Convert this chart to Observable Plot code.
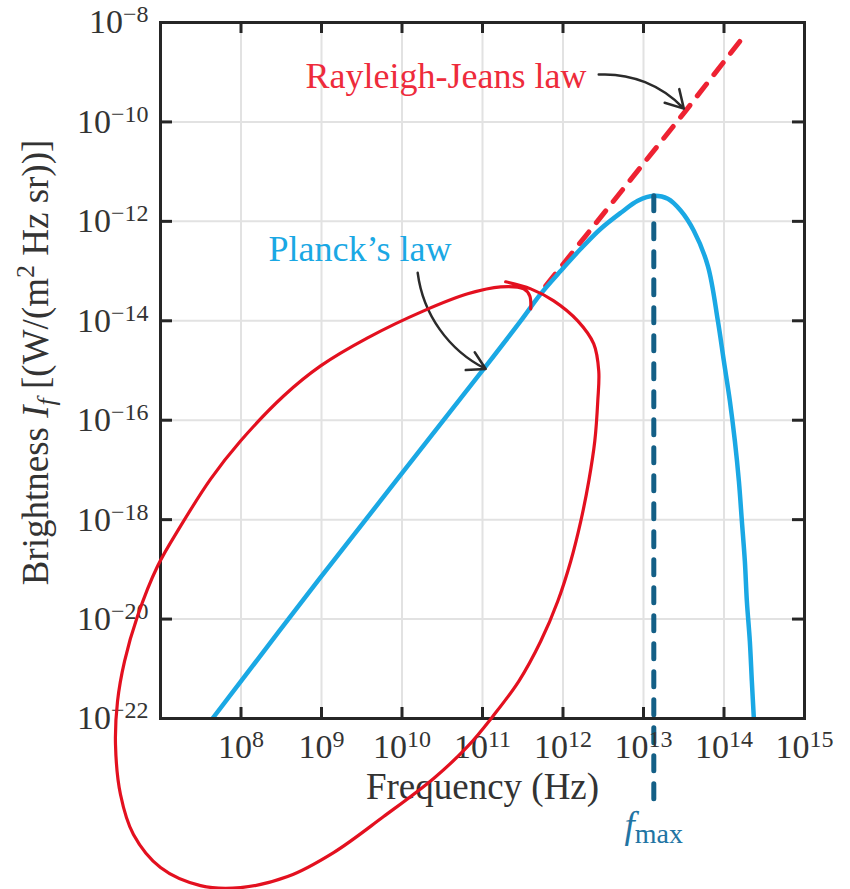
<!DOCTYPE html>
<html>
<head>
<meta charset="utf-8">
<script src="https://cdn.jsdelivr.net/npm/d3@7"></script>
<script src="https://cdn.jsdelivr.net/npm/@observablehq/plot@0.6"></script>
<style>
  html, body { margin: 0; padding: 0; background: #fff; }
</style>
</head>
<body>
<div id="chart"></div>
<script>
// ---------- data (log10 values) ----------
const xTickExp = [8, 9, 10, 11, 12, 13, 14, 15];
const xGridExp = [8, 9, 10, 11, 12, 13, 14];
const yTickExp = [-8, -10, -12, -14, -16, -18, -20, -22];
const yGridExp = [-10, -12, -14, -16, -18, -20];

// Planck's law curve: log10(frequency Hz), log10(brightness)
const planckLogF = [7.646, 8.952, 11.015, 11.475, 11.723, 11.972, 12.221, 12.469, 12.718, 12.929, 13.128, 13.302, 13.464, 13.625, 13.799, 13.924, 13.998, 14.073, 14.135, 14.185, 14.222, 14.259, 14.284, 14.321, 14.346, 14.371];
const planckLogI = [-22.0, -19.239, -14.969, -14.002, -13.458, -12.995, -12.552, -12.149, -11.827, -11.585, -11.484, -11.545, -11.786, -12.189, -12.894, -14.002, -14.808, -15.613, -16.419, -17.225, -18.030, -18.836, -19.641, -20.447, -21.253, -22.0];

// Rayleigh-Jeans law (dashed)
const rjLogF = [11.786, 13.526, 14.234];
const rjLogI = [-13.297, -9.772, -8.302];

// f_max marker
const fMaxLogF = 13.128;
const fMaxLogI = [-11.484, -23.67];

// hand-drawn red loop (annotation)
const loopLogF = [11.288, 11.599, 11.885, 12.183, 12.382, 12.444, 12.432, 12.395, 12.320, 12.221, 12.096, 11.935, 11.723, 11.450, 11.127, 10.816, 10.393, 9.772, 9.150, 8.579, 7.994, 7.497, 7.000, 6.664, 6.503, 6.441, 6.466, 6.553, 6.714, 6.963, 7.249, 7.622, 7.994, 8.529, 8.989, 9.573, 10.269, 10.816, 11.226, 11.512, 11.587, 11.599];
const loopLogI = [-13.216, -13.358, -13.599, -14.002, -14.465, -15.009, -15.613, -16.419, -17.225, -18.030, -18.836, -19.641, -20.447, -21.253, -21.958, -22.562, -23.206, -23.972, -24.697, -25.180, -25.402, -25.362, -24.999, -24.334, -23.529, -22.522, -21.656, -20.850, -19.944, -18.937, -18.131, -17.184, -16.419, -15.513, -14.908, -14.344, -13.801, -13.458, -13.317, -13.358, -13.498, -13.760];

// annotation arrows: [logF1, logI1, logF2, logI2]
const rjArrow = [12.444, -9.047, 13.501, -9.732];
const planckArrow = [10.195, -13.035, 11.040, -14.969];

// annotation labels
const rjLabel = {text: "Rayleigh-Jeans law", lf: 8.802, lI: -9.078};
const planckLabel = {text: "Planck\u2019s law", lf: 8.342, lI: -12.562};
const fmaxLabel = {text: "fmax", lf: 13.128, lI: -24.17};

// ---------- build tables ----------
const P = (fs, is) => fs.map((f, i) => ({f: 10 ** f, I: 10 ** is[i]}));
const planck = P(planckLogF, planckLogI);
const rj = P(rjLogF, rjLogI);
const fmax = fMaxLogI.map(v => ({f: 10 ** fMaxLogF, I: 10 ** v}));
const loop = P(loopLogF, loopLogI);
const arrowRow = a => [{x1: 10 ** a[0], y1: 10 ** a[1], x2: 10 ** a[2], y2: 10 ** a[3]}];
const fmtExp = e => (e < 0 ? "\u2212" + (-e) : String(e));

const BLUE = "#1aa8e4", RED = "#ee2232", DARK = "#262626", TEXT = "#333333";

const svg = Plot.plot({
  width: 850,
  height: 889,
  marginLeft: 160,
  marginRight: 46,
  marginTop: 22,
  marginBottom: 171,
  style: {fontFamily: "'Liberation Serif', 'Times New Roman', serif", background: "#fff", color: TEXT},
  x: {type: "log", domain: [1e7, 1e15]},
  y: {type: "log", domain: [1e-22, 1e-8]},
  marks: [
    // grid
    Plot.ruleX(xGridExp.map(e => 10 ** e), {stroke: "#e2e2e2", strokeWidth: 2}),
    Plot.ruleY(yGridExp.map(e => 10 ** e), {stroke: "#e2e2e2", strokeWidth: 2}),
    // Rayleigh-Jeans dashed
    Plot.line(rj, {x: "f", y: "I", stroke: RED, strokeWidth: 5, strokeDasharray: "15,12"}),
    // Planck
    Plot.line(planck, {x: "f", y: "I", stroke: BLUE, strokeWidth: 4.5, curve: "catmull-rom", clip: true}),
    // f_max dashed
    Plot.line(fmax, {x: "f", y: "I", stroke: "#135f86", strokeWidth: 5, strokeDasharray: "15,13", clip: false}),
    // inward tick marks
    Plot.ruleX(xGridExp.map(e => 10 ** e), {insetTop: 685, stroke: DARK, strokeWidth: 3}),
    Plot.ruleX(xGridExp.map(e => 10 ** e), {insetBottom: 685, stroke: DARK, strokeWidth: 3}),
    Plot.ruleY(yGridExp.map(e => 10 ** e), {insetRight: 632, stroke: DARK, strokeWidth: 3}),
    Plot.ruleY(yGridExp.map(e => 10 ** e), {insetLeft: 632, stroke: DARK, strokeWidth: 3}),
    Plot.frame({stroke: DARK, strokeWidth: 3}),
    // axes (labels only)
    Plot.axisX({ticks: xTickExp.map(e => 10 ** e), anchor: "bottom", tickSize: 0, tickPadding: 15,
      tickFormat: d => "10^" + fmtExp(Math.round(Math.log10(d))), fontSize: 34, fill: TEXT, label: null}),
    Plot.axisY({ticks: yTickExp.map(e => 10 ** e), anchor: "left", tickSize: 0, tickPadding: 12,
      tickFormat: d => "10^" + fmtExp(Math.round(Math.log10(d))), fontSize: 34, fill: TEXT, label: null}),
    Plot.text(["Frequency (Hz)"], {frameAnchor: "bottom", dy: 80, fontSize: 37, fill: TEXT}),
    Plot.text(["YLABEL"], {frameAnchor: "left", dx: -124, dy: -8, rotate: -90, textAnchor: "middle", fontSize: 37, fill: TEXT}),
    // arrows
    Plot.arrow(arrowRow(rjArrow), {x1: "x1", y1: "y1", x2: "x2", y2: "y2", bend: 25, stroke: "#2b2b2b", strokeWidth: 2.5, headLength: 12}),
    Plot.arrow(arrowRow(planckArrow), {x1: "x1", y1: "y1", x2: "x2", y2: "y2", bend: -28, stroke: "#2b2b2b", strokeWidth: 2.5, headLength: 12}),
    // labels
    Plot.text([rjLabel], {x: d => 10 ** d.lf, y: d => 10 ** d.lI, text: "text", textAnchor: "start", fontSize: 36, fill: "#ee2b3b"}),
    Plot.text([planckLabel], {x: d => 10 ** d.lf, y: d => 10 ** d.lI, text: "text", textAnchor: "start", fontSize: 36, fill: BLUE}),
    Plot.text([fmaxLabel], {x: d => 10 ** d.lf, y: d => 10 ** d.lI, text: "text", textAnchor: "middle", fontSize: 37, fill: "#2274a3"}),
    // hand-drawn loop on top
    Plot.line(loop, {x: "f", y: "I", stroke: "#e3101f", strokeWidth: 3.2, curve: "catmull-rom", clip: false})
  ]
});

// ---------- rich text (superscripts / italics) ----------
const NS = "http://www.w3.org/2000/svg";
function rich(el, parts) {
  el.textContent = "";
  for (const p of parts) {
    const t = document.createElementNS(NS, "tspan");
    t.textContent = p.t;
    if (p.dy) t.setAttribute("dy", p.dy);
    if (p.size) t.setAttribute("font-size", p.size);
    if (p.italic) t.setAttribute("font-style", "italic");
    el.appendChild(t);
  }
}
d3.select(svg).selectAll("text").each(function () {
  const s = this.textContent;
  if (s.startsWith("10^")) {
    const [b, e] = s.split("^");
    rich(this, [{t: b}, {t: e, size: 24, dy: -11}]);
  } else if (s === "YLABEL") {
    rich(this, [
      {t: "Brightness "},
      {t: "I", italic: true},
      {t: "f", italic: true, size: 26, dy: 7},
      {t: " [(W/(m", dy: -7},
      {t: "2", size: 26, dy: -14},
      {t: " Hz sr))]", dy: 14}
    ]);
  } else if (s === "fmax") {
    rich(this, [{t: "f", italic: true}, {t: "max", size: 28, dy: 5}]);
  }
});

document.getElementById("chart").appendChild(svg);
</script>
</body>
</html>
